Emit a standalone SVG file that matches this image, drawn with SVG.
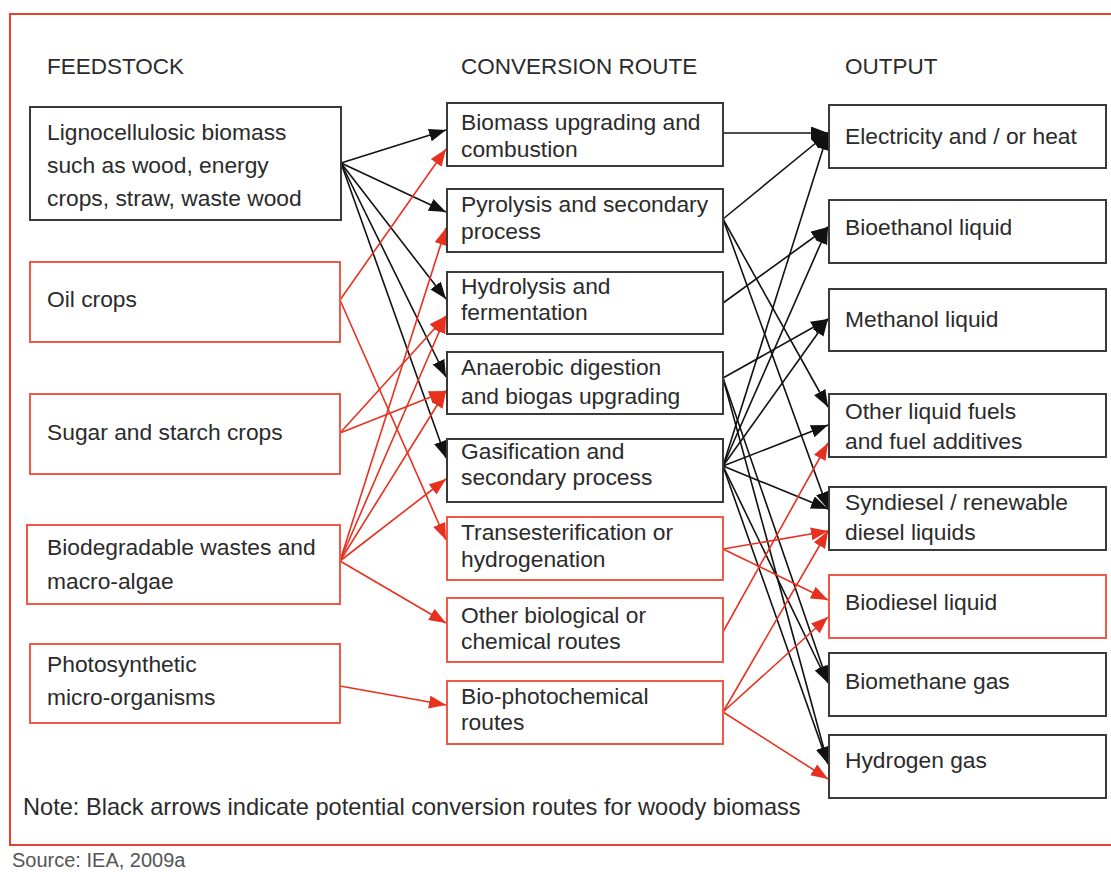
<svg xmlns="http://www.w3.org/2000/svg" width="1111" height="872" viewBox="0 0 1111 872">
  <style>
    text { font-family: "Liberation Sans", Arial, sans-serif; fill: #2b2b2b; font-size: 22.8px; }
    .hd { font-size: 22.5px; }
    .note { font-size: 23.6px; }
    .bk { fill: #ffffff; stroke: #3a3a3a; stroke-width: 2; }
    .rd { fill: #ffffff; stroke: #ef5a48; stroke-width: 2; }
    .lb { stroke: #111111; stroke-width: 1.6; fill: none; marker-end: url(#ab); }
    .lr { stroke: #e8301f; stroke-width: 1.6; fill: none; marker-end: url(#ar); }
    .src { font-size: 20px; fill: #555555; }
  </style>
  <defs>
    <marker id="ab" markerUnits="userSpaceOnUse" markerWidth="18" markerHeight="14" refX="17" refY="6.5" orient="auto">
      <path d="M0,0 L17,6.5 L0,13 z" fill="#111111"/>
    </marker>
    <marker id="ar" markerUnits="userSpaceOnUse" markerWidth="18" markerHeight="14" refX="17" refY="6.5" orient="auto">
      <path d="M0,0 L17,6.5 L0,13 z" fill="#e8301f"/>
    </marker>
  </defs>

  <rect width="1111" height="872" fill="#ffffff"/>
  <!-- outer frame -->
  <polyline points="1111,14 10,14 10,845 1111,845" fill="none" stroke="#e8412f" stroke-width="2"/>

  <!-- column headings -->
  <text class="hd" x="47" y="74">FEEDSTOCK</text>
  <text class="hd" x="461" y="74">CONVERSION ROUTE</text>
  <text class="hd" x="845" y="74">OUTPUT</text>

  <!-- connectors -->
  <g id="connectors">
    <!-- feedstock to conversion: woody biomass -->
    <line class="lb" x1="341" y1="163" x2="446" y2="130"/>
    <line class="lb" x1="341" y1="163" x2="446" y2="212"/>
    <line class="lb" x1="341" y1="163" x2="446" y2="299"/>
    <line class="lb" x1="341" y1="163" x2="446" y2="377"/>
    <line class="lb" x1="341" y1="163" x2="446" y2="458"/>
    <!-- feedstock to conversion: other feedstocks -->
    <line class="lr" x1="340" y1="300" x2="446" y2="149"/>
    <line class="lr" x1="340" y1="300" x2="446" y2="540"/>
    <line class="lr" x1="340" y1="433" x2="446" y2="316"/>
    <line class="lr" x1="340" y1="433" x2="446" y2="391"/>
    <line class="lr" x1="340" y1="561" x2="446" y2="228"/>
    <line class="lr" x1="340" y1="561" x2="446" y2="316"/>
    <line class="lr" x1="340" y1="561" x2="446" y2="391"/>
    <line class="lr" x1="340" y1="561" x2="446" y2="479"/>
    <line class="lr" x1="340" y1="561" x2="446" y2="623"/>
    <line class="lr" x1="340" y1="686" x2="446" y2="705"/>

    <!-- conversion to output: woody biomass -->
    <line class="lb" x1="723" y1="133" x2="828" y2="133"/>
    <line class="lb" x1="723" y1="219" x2="828" y2="133"/>
    <line class="lb" x1="723" y1="466" x2="828" y2="133"/>
    <line class="lb" x1="723" y1="303" x2="828" y2="227"/>
    <line class="lb" x1="723" y1="466" x2="828" y2="227"/>
    <line class="lb" x1="723" y1="378" x2="828" y2="319"/>
    <line class="lb" x1="723" y1="466" x2="828" y2="319"/>
    <line class="lb" x1="723" y1="219" x2="828" y2="407"/>
    <line class="lb" x1="723" y1="466" x2="828" y2="425"/>
    <line class="lb" x1="723" y1="219" x2="828" y2="509"/>
    <line class="lb" x1="723" y1="466" x2="828" y2="509"/>
    <line class="lb" x1="723" y1="378" x2="828" y2="683"/>
    <line class="lb" x1="723" y1="466" x2="828" y2="683"/>
    <line class="lb" x1="723" y1="378" x2="828" y2="764"/>
    <line class="lb" x1="723" y1="466" x2="828" y2="764"/>
    <!-- conversion to output: other routes -->
    <line class="lr" x1="723" y1="549" x2="828" y2="531"/>
    <line class="lr" x1="723" y1="549" x2="828" y2="600"/>
    <line class="lr" x1="723" y1="632" x2="828" y2="443"/>
    <line class="lr" x1="723" y1="712" x2="828" y2="531"/>
    <line class="lr" x1="723" y1="712" x2="828" y2="617"/>
    <line class="lr" x1="723" y1="712" x2="828" y2="779"/>
  </g>

  <!-- feedstock nodes -->
  <g id="feed-lignocellulosic">
    <rect class="bk" x="30" y="107" width="311" height="113"/>
    <text x="47" y="140">Lignocellulosic biomass</text>
    <text x="47" y="173">such as wood, energy</text>
    <text x="47" y="206">crops, straw, waste wood</text>
  </g>
  <g id="feed-oil">
    <rect class="rd" x="30" y="262" width="310" height="80"/>
    <text x="47" y="307">Oil crops</text>
  </g>
  <g id="feed-sugar">
    <rect class="rd" x="30" y="394" width="310" height="80"/>
    <text x="47" y="440">Sugar and starch crops</text>
  </g>
  <g id="feed-biodegradable">
    <rect class="rd" x="27" y="525" width="313" height="79"/>
    <text x="47" y="555">Biodegradable wastes and</text>
    <text x="47" y="589">macro-algae</text>
  </g>
  <g id="feed-photosynthetic">
    <rect class="rd" x="30" y="644" width="310" height="79"/>
    <text x="47" y="672">Photosynthetic</text>
    <text x="47" y="705">micro-organisms</text>
  </g>

  <!-- conversion nodes -->
  <g id="conv-combustion">
    <rect class="bk" x="447" y="103" width="276" height="63"/>
    <text x="461" y="130">Biomass upgrading and</text>
    <text x="461" y="157">combustion</text>
  </g>
  <g id="conv-pyrolysis">
    <rect class="bk" x="447" y="189" width="276" height="63"/>
    <text x="461" y="212">Pyrolysis and secondary</text>
    <text x="461" y="239">process</text>
  </g>
  <g id="conv-hydrolysis">
    <rect class="bk" x="447" y="272" width="276" height="62"/>
    <text x="461" y="294">Hydrolysis and</text>
    <text x="461" y="320">fermentation</text>
  </g>
  <g id="conv-anaerobic">
    <rect class="bk" x="447" y="352" width="276" height="62"/>
    <text x="461" y="375">Anaerobic digestion</text>
    <text x="461" y="404">and biogas upgrading</text>
  </g>
  <g id="conv-gasification">
    <rect class="bk" x="447" y="439" width="276" height="63"/>
    <text x="461" y="459">Gasification and</text>
    <text x="461" y="485">secondary process</text>
  </g>
  <g id="conv-transesterification">
    <rect class="rd" x="447" y="517" width="276" height="63"/>
    <text x="461" y="540">Transesterification or</text>
    <text x="461" y="567">hydrogenation</text>
  </g>
  <g id="conv-other">
    <rect class="rd" x="447" y="598" width="276" height="64"/>
    <text x="461" y="623">Other biological or</text>
    <text x="461" y="649">chemical routes</text>
  </g>
  <g id="conv-biophotochemical">
    <rect class="rd" x="447" y="681" width="276" height="63"/>
    <text x="461" y="704">Bio-photochemical</text>
    <text x="461" y="730">routes</text>
  </g>

  <!-- output nodes -->
  <g id="out-electricity">
    <rect class="bk" x="829" y="105" width="277" height="63"/>
    <text x="845" y="144">Electricity and / or heat</text>
  </g>
  <g id="out-bioethanol">
    <rect class="bk" x="829" y="200" width="277" height="63"/>
    <text x="845" y="235">Bioethanol liquid</text>
  </g>
  <g id="out-methanol">
    <rect class="bk" x="829" y="289" width="277" height="62"/>
    <text x="845" y="327">Methanol liquid</text>
  </g>
  <g id="out-other-liquid">
    <rect class="bk" x="829" y="394" width="277" height="63"/>
    <text x="845" y="419">Other liquid fuels</text>
    <text x="845" y="449">and fuel additives</text>
  </g>
  <g id="out-syndiesel">
    <rect class="bk" x="829" y="487" width="277" height="63"/>
    <text x="845" y="510">Syndiesel / renewable</text>
    <text x="845" y="540">diesel liquids</text>
  </g>
  <g id="out-biodiesel">
    <rect class="rd" x="829" y="575" width="277" height="63"/>
    <text x="845" y="610">Biodiesel liquid</text>
  </g>
  <g id="out-biomethane">
    <rect class="bk" x="829" y="653" width="277" height="63"/>
    <text x="845" y="689">Biomethane gas</text>
  </g>
  <g id="out-hydrogen">
    <rect class="bk" x="829" y="735" width="277" height="63"/>
    <text x="845" y="768">Hydrogen gas</text>
  </g>

  <text class="note" x="23" y="815">Note: Black arrows indicate potential conversion routes for woody biomass</text>
  <text class="src" x="12" y="867">Source: IEA, 2009a</text>
</svg>
